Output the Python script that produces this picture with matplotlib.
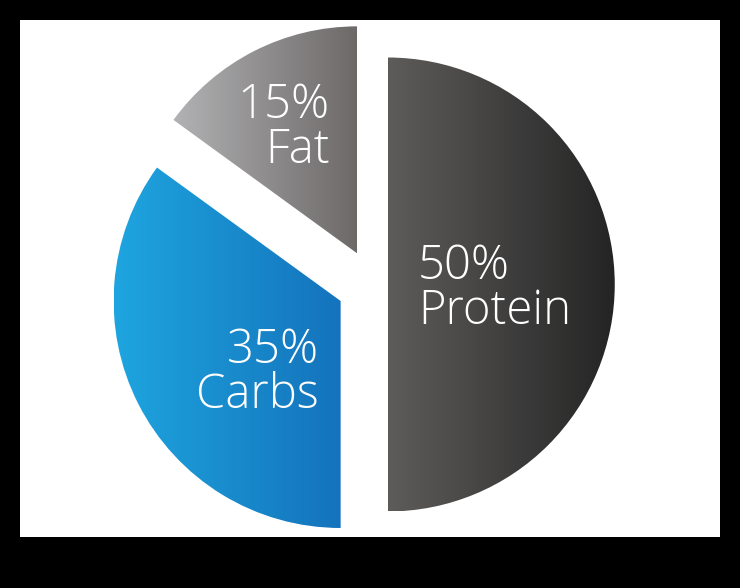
import numpy as np
import matplotlib.pyplot as plt
from matplotlib.patches import Rectangle
from matplotlib.colors import LinearSegmentedColormap

# Macronutrient split
nutrients = ["Protein", "Carbs", "Fat"]
shares = [50, 35, 15]
explode = [0.065, 0.16, 0.154]

# left -> right gradient for every slice
grad_left = ["#5e5c5b", "#1ea5df", "#b2b2b4"]
grad_right = ["#242424", "#1473bc", "#6d6969"]

W, H, DPI = 740, 588, 100
R_PX = 227.0          # pie radius in pixels
CX, CY = 373.0, 588 - 284.5

fig = plt.figure(figsize=(W / DPI, H / DPI), dpi=DPI, facecolor="black")
fig.patches.append(Rectangle((20 / W, 51 / H), 700 / W, 517 / H, transform=fig.transFigure,
                             facecolor="white", edgecolor="none", zorder=-10))

ax = fig.add_axes([0, 0, 1, 1])
ax.set_facecolor("none")

wedges, _ = ax.pie(shares, explode=explode, startangle=90, counterclock=False,
                   radius=1.0, wedgeprops=dict(linewidth=0))
ax.set_aspect("auto")
ax.axis("off")

# paint each wedge with a horizontal gradient clipped to its shape
for w, c0, c1 in zip(wedges, grad_left, grad_right):
    w.set_facecolor("none")
    ext = w.get_path().get_extents()
    cmap = LinearSegmentedColormap.from_list("g", [c0, c1])
    grad = np.linspace(0, 1, 256).reshape(1, -1)
    im = ax.imshow(grad, cmap=cmap, extent=(ext.x0, ext.x1, ext.y0, ext.y1),
                   aspect="auto", interpolation="bicubic", zorder=1)
    im.set_clip_path(w)

ax.set_xlim(-CX / R_PX, (W - CX) / R_PX)
ax.set_ylim(-CY / R_PX, (H - CY) / R_PX)

# labels: (x, y, ha) in pie units
label_pos = [(0.198, -0.02, "left"), (-0.24, -0.39, "right"), (-0.19, 0.69, "right")]
for name, val, (x, y, ha) in zip(nutrients, shares, label_pos):
    ax.text(x, y, f"{val}%\n{name}", ha=ha, va="center", color="white",
            fontsize=34, family="Open Sans", fontweight="light",
            linespacing=0.9, zorder=3)

fig.savefig("out.png", dpi=DPI, facecolor="black")
